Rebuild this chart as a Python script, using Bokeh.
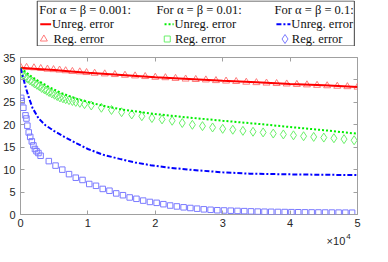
from bokeh.plotting import figure
from bokeh.models import (Range1d, LinearAxis, CustomJSTickFormatter, FixedTicker,
                          CustomLabelingPolicy)
from bokeh.layouts import column
from bokeh.core.properties import value
from bokeh.embed import file_html
from bokeh.resources import INLINE

# ---------------- data ----------------
x_ticks = [0, 10000, 20000, 30000, 40000, 50000]
y_ticks = [0, 5, 10, 15, 20, 25, 30, 35]
x_exponent_base = "×10"
x_exponent_power = "4"

legend_headers = ["For α = β = 0.001:", "For α = β = 0.01:", "For α = β = 0.1:"]
legend_unreg = "Unreg. error"
legend_reg = "Reg. error"

# alpha = beta = 0.001
red_line_x = [0, 2500, 5000, 7500, 10000, 15000, 20000, 25000, 30000, 35000, 40000, 45000, 50000]
red_line_y = [32.7, 32.45, 32.2, 31.9, 31.6, 31.1, 30.6, 30.2, 29.8, 29.5, 29.1, 28.8, 28.4]
red_reg_x = [0, 900, 2000, 3000, 4000, 4900, 5800, 6700, 7700, 8800, 9800, 11000, 12500, 14000,
             15500, 17000, 18500, 20000, 21500, 23000, 24500, 26000, 27500, 29000, 30500, 32000,
             33500, 35000, 36500, 38000, 39500, 41000, 42500, 44000, 45500, 47000, 48500, 50000]
red_reg_y = [32.9, 32.8, 32.7, 32.55, 32.4, 32.3, 32.2, 32.05, 31.9, 31.8, 31.65, 31.5, 31.35, 31.2,
             31.05, 30.9, 30.75, 30.6, 30.5, 30.35, 30.2, 30.1, 30.0, 29.85, 29.75, 29.65,
             29.5, 29.4, 29.3, 29.2, 29.1, 29.0, 28.9, 28.8, 28.7, 28.6, 28.5, 28.4]

# alpha = beta = 0.01
green_line_x = [0, 500, 1000, 1500, 2500, 4000, 6000, 8500, 11000, 13000, 15500, 18000, 20000,
                22500, 25000, 30000, 36000, 40000, 45000, 50000]
green_line_y = [32.6, 32.1, 31.5, 30.9, 29.9, 28.6, 27.1, 25.7, 24.7, 24.0, 23.3, 22.8, 22.4,
                22.0, 21.6, 20.9, 20.1, 19.5, 18.8, 18.0]
green_reg_x = [0, 350, 700, 1050, 1400, 1750, 2100, 2450, 2800, 3150, 3550, 3900, 4250, 4650,
               5050, 5450, 5850, 6300, 6700, 7200, 7700, 8200, 8800, 9500, 10500, 12000, 13500,
               15000, 16500, 18000, 19500, 21000, 22500, 24000, 25500, 27000, 28500, 30000,
               31500, 33000, 34500, 36000, 37500, 39000, 40500, 42000, 43500, 45000, 46500,
               48000, 49500]
green_reg_y = [31.6, 31.1, 30.7, 30.3, 29.9, 29.6, 29.2, 28.9, 28.6, 28.2, 27.9, 27.6, 27.3, 27.0,
               26.7, 26.4, 26.1, 25.9, 25.7, 25.5, 25.3, 25.1, 24.9, 24.6, 24.3, 23.8, 23.3,
               22.8, 22.3, 21.9, 21.5, 21.2, 20.9, 20.4, 20.0, 19.7, 19.4, 19.1,
               18.9, 18.65, 18.45, 18.3, 18.05, 17.85, 17.65, 17.45, 17.3, 17.15, 17.0,
               16.8, 16.55]

# alpha = beta = 0.1
blue_line_x = [0, 300, 800, 1300, 1800, 2700, 3700, 5000, 6500, 8400, 10000, 12300, 14700, 17000,
               19300, 21700, 25000, 30000, 34000, 40000, 45000, 50000]
blue_line_y = [32.6, 31.0, 28.2, 25.8, 23.7, 21.4, 19.9, 18.6, 17.3, 15.8, 14.6, 13.3, 12.4, 11.6,
               11.0, 10.5, 10.0, 9.4, 9.1, 8.95, 8.85, 8.8]
blue_reg_x = [100, 180, 420, 740, 880, 1020, 1220, 1440, 1680, 1920, 2140, 2380, 2660, 2980,
              4200, 5200, 6200, 7200, 8200, 9200, 10200, 11200, 12200, 13200, 14200, 15200,
              16200, 17200, 18200, 19200, 20200, 21200, 22200, 23200, 24200, 25200, 26200,
              27200, 28200, 29200, 30200, 31200, 32200, 33200, 34200, 35200, 36200, 37200,
              38200, 39200, 40200, 41200, 42200, 43200, 44200, 45200, 46200, 47200, 48200, 49200]
blue_reg_y = [26.0, 25.3, 23.8, 22.1, 21.4, 19.8, 18.3, 17.3, 16.3, 15.4, 14.6, 14.1, 13.7, 13.1,
              11.9, 10.9, 10.0, 9.0, 8.2, 7.7, 6.8, 6.4, 5.7, 5.3, 4.7, 4.3,
              3.8, 3.5, 3.1, 2.8, 2.6, 2.3, 2.0, 1.8, 1.6, 1.45, 1.3,
              1.15, 1.05, 0.95, 0.9, 0.85, 0.8, 0.75, 0.7, 0.65, 0.62, 0.6,
              0.57, 0.55, 0.52, 0.5, 0.48, 0.46, 0.45, 0.44, 0.43, 0.42, 0.41, 0.4]

# ---------------- styles ----------------
RED, GREEN, BLUE = "#ff0000", "#00ee00", "#0000ff"
RED_M, GREEN_M, BLUE_M = "#ff7a7a", "#6af06a", "#7a7aff"
SANS_NAME = "Liberation Sans"
SANS = value(SANS_NAME)
SERIF = value("Liberation Serif")
FRAME_C = "#a0a0a0"
TEXT_C = "#262626"
DOT = "2 2"
DASHDOT = "5 2 2 2"
W = 372

# ---------------- main plot ----------------
p = figure(width=W, height=186, output_backend="svg", toolbar_location=None,
           x_range=Range1d(0, 50000), y_range=Range1d(0, 35),
           min_border_left=18, min_border_right=4, min_border_top=4, min_border_bottom=18)
p.xgrid.visible = False
p.ygrid.visible = False
p.outline_line_color = FRAME_C
p.background_fill_color = "white"

no_labels = CustomLabelingPolicy(code="for (const i of Array.from(indices)) indices.unset(i); return indices;")


def style_axis(ax, labels=True, standoff=4):
    ax.axis_line_color = None
    ax.major_tick_line_color = FRAME_C
    ax.major_tick_in = 4
    ax.major_tick_out = 0
    ax.minor_tick_in = 0
    ax.minor_tick_out = 0
    ax.minor_tick_line_color = None
    ax.major_label_text_font = SANS_NAME
    ax.major_label_text_font_size = "11px"
    ax.major_label_text_color = TEXT_C
    if labels:
        ax.major_label_standoff = standoff
    else:
        ax.major_label_policy = no_labels
        ax.major_label_standoff = 0


p.xaxis[0].ticker = FixedTicker(ticks=x_ticks)
p.xaxis[0].formatter = CustomJSTickFormatter(code="return (tick/1e4).toFixed(0);")
style_axis(p.xaxis[0], standoff=4)
p.yaxis[0].ticker = FixedTicker(ticks=y_ticks)
style_axis(p.yaxis[0], standoff=5)

top_ax = LinearAxis(ticker=FixedTicker(ticks=x_ticks))
style_axis(top_ax, labels=False)
p.add_layout(top_ax, "above")
right_ax = LinearAxis(ticker=FixedTicker(ticks=y_ticks))
style_axis(right_ax, labels=False)
p.add_layout(right_ax, "right")

# markers (under lines)
p.scatter(red_reg_x, red_reg_y, marker="triangle", size=7, fill_color=None,
          line_color=RED_M, line_width=1)
p.scatter(green_reg_x, green_reg_y, marker="diamond", size=9, fill_color=None,
          line_color=GREEN_M, line_width=1)
p.scatter(blue_reg_x, blue_reg_y, marker="square", size=5.5, fill_color=None,
          line_color=BLUE_M, line_width=1)

p.line(red_line_x, red_line_y, line_color=RED, line_width=2)
p.line(green_line_x, green_line_y, line_color=GREEN, line_width=2, line_dash=DOT)
p.line(blue_line_x, blue_line_y, line_color=BLUE, line_width=2, line_dash=DASHDOT)

# ---------------- x exponent strip ----------------
ex = figure(width=W, height=14, output_backend="svg", toolbar_location=None,
            x_range=Range1d(0, W), y_range=Range1d(14, 0), min_border=0,
            x_axis_type=None, y_axis_type=None)
ex.outline_line_color = None
ex.grid.visible = False
ex.text(x=[358.5], y=[8], text=[x_exponent_base], text_font=SANS, text_font_size="11px",
        text_align="right", text_baseline="middle", text_color=TEXT_C)
ex.text(x=[359.5], y=[3.5], text=[x_exponent_power], text_font=SANS, text_font_size="8px",
        text_align="left", text_baseline="middle", text_color=TEXT_C)

# ---------------- legend ----------------
leg = figure(width=W, height=46, output_backend="svg", toolbar_location=None,
             x_range=Range1d(0, W), y_range=Range1d(46, 0), min_border=0,
             x_axis_type=None, y_axis_type=None)
leg.outline_line_color = None
leg.grid.visible = False

BOX_L, BOX_R = 18.5, 368.5
leg.quad(left=[BOX_L], right=[BOX_R], top=[0.5], bottom=[45.5], fill_color="white",
         line_color="#404040", line_width=1)

ROW1, ROW2, ROW3 = 9.5, 23.8, 38.5
col_x = [BOX_L + 2.3, BOX_L + 131.5, BOX_L + 262.0]
line_seg = [(BOX_L + 3.3, BOX_L + 15.3), (BOX_L + 140.5, BOX_L + 150.5), (BOX_L + 264.0, BOX_L + 279.5)]
mark_x = [BOX_L + 7.3, BOX_L + 143.5, BOX_L + 273.5]
reg_text_x = [BOX_L + 18.0, BOX_L + 152.0, BOX_L + 281.0]
colors = [RED, GREEN, BLUE]
mcolors = [RED_M, GREEN_M, BLUE_M]
dashes = ["solid", DOT, DASHDOT]
leg_markers = ["triangle", "square", "diamond"]
leg_sizes = [7, 6, 9]

text_kw = dict(text_font=SERIF, text_font_size="12.5px", text_baseline="middle",
               text_align="left", text_color="#111111")
for i in range(3):
    leg.text(x=[col_x[i]], y=[ROW1], text=[legend_headers[i]], **text_kw)
    x0, x1 = line_seg[i]
    leg.line([x0, x1], [ROW2, ROW2], line_color=colors[i], line_width=2, line_dash=dashes[i])
    leg.text(x=[x1 + 1], y=[ROW2], text=[legend_unreg], **text_kw)
    leg.scatter([mark_x[i]], [ROW3], marker=leg_markers[i], size=leg_sizes[i], fill_color=None,
                line_color=mcolors[i], line_width=1)
    leg.text(x=[reg_text_x[i]], y=[ROW3], text=[legend_reg], **text_kw)

layout = column(leg, p, ex, spacing=0)
open("out.html", "w").write(file_html(layout, INLINE))
